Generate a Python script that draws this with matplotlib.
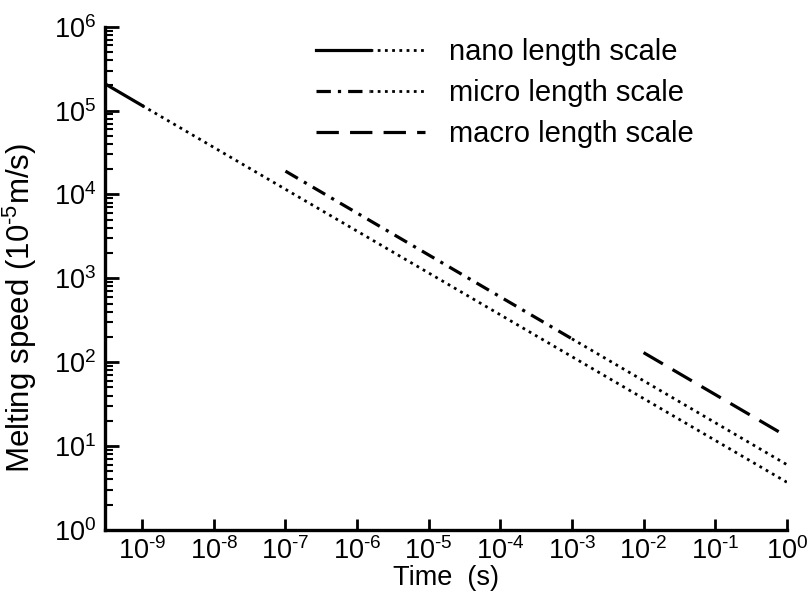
import math

import matplotlib.pyplot as plt
from matplotlib.legend_handler import HandlerTuple
from matplotlib.ticker import FuncFormatter

plt.rcParams['font.family'] = ['Liberation Sans', 'DejaVu Sans']
plt.rcParams['mathtext.fontset'] = 'custom'
plt.rcParams['mathtext.rm'] = 'Liberation Sans'
plt.rcParams['mathtext.it'] = 'Liberation Sans:italic'
plt.rcParams['mathtext.bf'] = 'Liberation Sans:bold'

# time (s) and melting speed (1e-5 m/s), straight segments on log-log
nano_t_solid = [3.0e-10, 1e-9]
nano_v_solid = [2.1e5, 1.15e5]
nano_t_dot = [1e-9, 1.0]
nano_v_dot = [1.15e5, 3.7]

micro_t_dashdot = [1e-7, 1e-3]
micro_v_dashdot = [1.9e4, 190]
micro_t_dot = [1e-3, 1.0]
micro_v_dot = [190, 6.0]

macro_t = [1e-2, 1.0]
macro_v = [130, 13]

labels = ['nano length scale', 'micro length scale', 'macro length scale']
x_decades = list(range(-9, 1))
y_decades = list(range(0, 7))


def pow10(val, pos):
    k = int(round(math.log10(val)))
    if k < 0:
        return r'$\mathdefault{10^{\text{-}%d}}$' % (-k)
    return r'$\mathdefault{10^{%d}}$' % k


fig, ax = plt.subplots(figsize=(8.12, 5.96), dpi=100)
fig.subplots_adjust(left=0.129, right=0.969, bottom=0.111, top=0.955)

dot = (0, (1, 1.6))
lw = 2.3
s1, = ax.plot(nano_t_solid, nano_v_solid, color='black', lw=lw, ls='-')
d1, = ax.plot(nano_t_dot, nano_v_dot, color='black', lw=2.0, ls=dot)
s2, = ax.plot(micro_t_dashdot, micro_v_dashdot, color='black', lw=lw, ls=(0, (4.5, 2.2, 1, 2.2)))
d2, = ax.plot(micro_t_dot, micro_v_dot, color='black', lw=2.0, ls=dot)
s3, = ax.plot(macro_t, macro_v, color='black', lw=lw, ls=(0, (7, 3.5)))

ax.set_xscale('log')
ax.set_yscale('log')
ax.set_xlim(3.0e-10, 1.0)
ax.set_ylim(1, 1e6)
ax.set_xticks([10.0**k for k in x_decades])
ax.set_yticks([10.0**k for k in y_decades])
ax.xaxis.set_major_formatter(FuncFormatter(pow10))
ax.yaxis.set_major_formatter(FuncFormatter(pow10))

for side in ['top', 'right']:
    ax.spines[side].set_visible(False)
for side in ['left', 'bottom']:
    ax.spines[side].set_linewidth(2.4)

ax.tick_params(which='major', direction='in', length=10, width=2.0, labelsize=19.5)
ax.tick_params(which='minor', direction='in', length=6, width=1.5)
ax.tick_params(axis='x', which='major', length=8, pad=5)
ax.tick_params(axis='x', which='minor', length=5)
ax.tick_params(axis='y', pad=6)

ax.set_xlabel('Time  (s)', fontsize=19.5, labelpad=0)
ax.set_ylabel(r'Melting speed (10$^{\text{-}5}$m/s)', fontsize=22.5)
ax.yaxis.set_label_coords(-0.097, 0.44)

handles = [(s1, d1), (s2, d2), s3]
ax.legend(handles, labels, handler_map={tuple: HandlerTuple(ndivide=2, pad=0)},
          loc='upper left', bbox_to_anchor=(0.309, 0.978), frameon=False,
          borderpad=0, borderaxespad=0,
          fontsize=21, handlelength=3.77, handletextpad=0.8, labelspacing=0.45)

plt.savefig('out.png', dpi=100)
